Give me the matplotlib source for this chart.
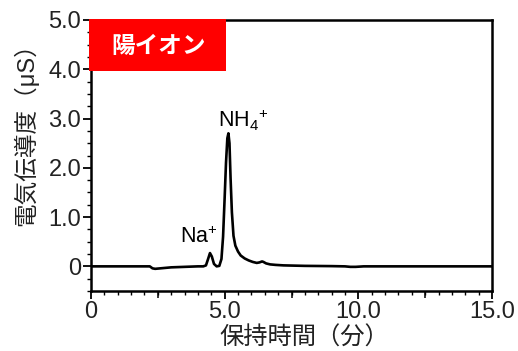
import matplotlib
matplotlib.use("Agg")
import matplotlib.pyplot as plt
from matplotlib.patches import Rectangle
from matplotlib.ticker import MultipleLocator

plt.rcParams['font.family'] = ['Liberation Sans', 'Noto Sans CJK JP', 'DejaVu Sans']
plt.rcParams['mathtext.fontset'] = 'custom'
plt.rcParams['mathtext.rm'] = 'Liberation Sans'
plt.rcParams['mathtext.it'] = 'Liberation Sans:italic'

# Chromatogram data (retention time [min], conductivity [uS])
time_min = [0, 0.5, 1, 1.5, 2, 2.2, 2.3, 2.4, 2.6, 2.8, 3, 3.5, 4, 4.2, 4.3, 4.38, 4.45,
            4.52, 4.6, 4.7, 4.8, 4.88, 4.94, 5.0, 5.05, 5.1, 5.14, 5.18, 5.22, 5.27, 5.33,
            5.4, 5.5, 5.6, 5.75, 5.9, 6.05, 6.2, 6.3, 6.4, 6.45, 6.55, 6.7, 6.9, 7.2, 7.6,
            8, 9, 9.5, 9.7, 9.9, 10.2, 11, 12, 13, 14, 15]
conductivity = [0, 0, 0, 0, 0, 0, -0.04, -0.05, -0.04, -0.03, -0.02, -0.01, 0, 0, 0.02,
                0.15, 0.27, 0.2, 0.05, 0.0, 0.01, 0.15, 0.6, 1.4, 2.1, 2.6, 2.7, 2.5, 1.8,
                1.1, 0.62, 0.42, 0.3, 0.22, 0.16, 0.12, 0.09, 0.07, 0.08, 0.1, 0.09, 0.06,
                0.04, 0.03, 0.02, 0.015, 0.01, 0.005, 0.0, -0.01, -0.01, 0, 0, 0, 0, 0, 0]

x_ticks = [0, 5, 10, 15]
x_ticklabels = ['0', '5.0', '10.0', '15.0']
x_mid_ticks = [2.5, 7.5, 12.5]
y_ticks = [0, 1, 2, 3, 4, 5]
y_ticklabels = ['0', '1.0', '2.0', '3.0', '4.0', '5.0']

peak_labels = [r'Na$^{+}$', r'NH$_{4}$$^{+}$']
peak_pos = [(4.05, 0.6), (5.7, 2.97)]

title_box = '陽イオン'
xlabel = '保持時間（分）'
ylabel = '電気伝導度（μS）'

fig = plt.figure(figsize=(5.18, 3.51), dpi=100)
ax = fig.add_axes([91/518, (351-291)/351, (492-91)/518, (291-20)/351])

ax.plot(time_min, conductivity, color='black', lw=1.9, solid_joinstyle='round')

ax.set_xlim(0, 15)
ax.set_ylim(-0.5, 5.0)
ax.set_xticks(x_ticks)
ax.set_xticklabels(x_ticklabels)
ax.set_yticks(y_ticks)
ax.set_yticklabels(y_ticklabels)
ax.xaxis.set_minor_locator(MultipleLocator(0.5))
ax.yaxis.set_minor_locator(MultipleLocator(0.25))
ax.tick_params(axis='both', which='major', length=6, width=1.3, labelsize=17, pad=1, colors='black')
ax.tick_params(axis='both', which='minor', length=3.2, width=1.0)
for lab in ax.get_xticklabels() + ax.get_yticklabels():
    lab.set_color('#222222')

sec = ax.secondary_xaxis('bottom')
sec.set_xticks(x_mid_ticks)
sec.set_xticklabels([])
sec.tick_params(length=4.8, width=1.1)
sec.spines['bottom'].set_visible(False)

for s in ax.spines.values():
    s.set_linewidth(1.8)

for txt, (px, py) in zip(peak_labels, peak_pos):
    ax.text(px, py, txt, fontsize=15.5, ha='center', va='center', color='black')

ax.add_patch(Rectangle((-0.005, 0.81), 0.342, 0.195, transform=ax.transAxes,
                       facecolor='#ff0000', edgecolor='none', zorder=5, clip_on=False))
ax.text(0.168, 0.905, title_box, transform=ax.transAxes, fontsize=17,
        fontweight='bold', color='white', ha='center', va='center', zorder=6,
        family=['Noto Sans CJK JP'])

ax.set_xlabel(xlabel, fontsize=17.5, family=['Noto Sans CJK JP'], color='#222222',
              va='center', ha='center')
ax.set_ylabel(ylabel, fontsize=17, family=['Liberation Sans', 'Noto Sans CJK JP'],
              color='#222222', va='center', ha='center')
ax.xaxis.set_label_coords(0.531, -0.172)
ax.yaxis.set_label_coords(-0.163, 0.60)

fig.savefig('out.png', dpi=100)
